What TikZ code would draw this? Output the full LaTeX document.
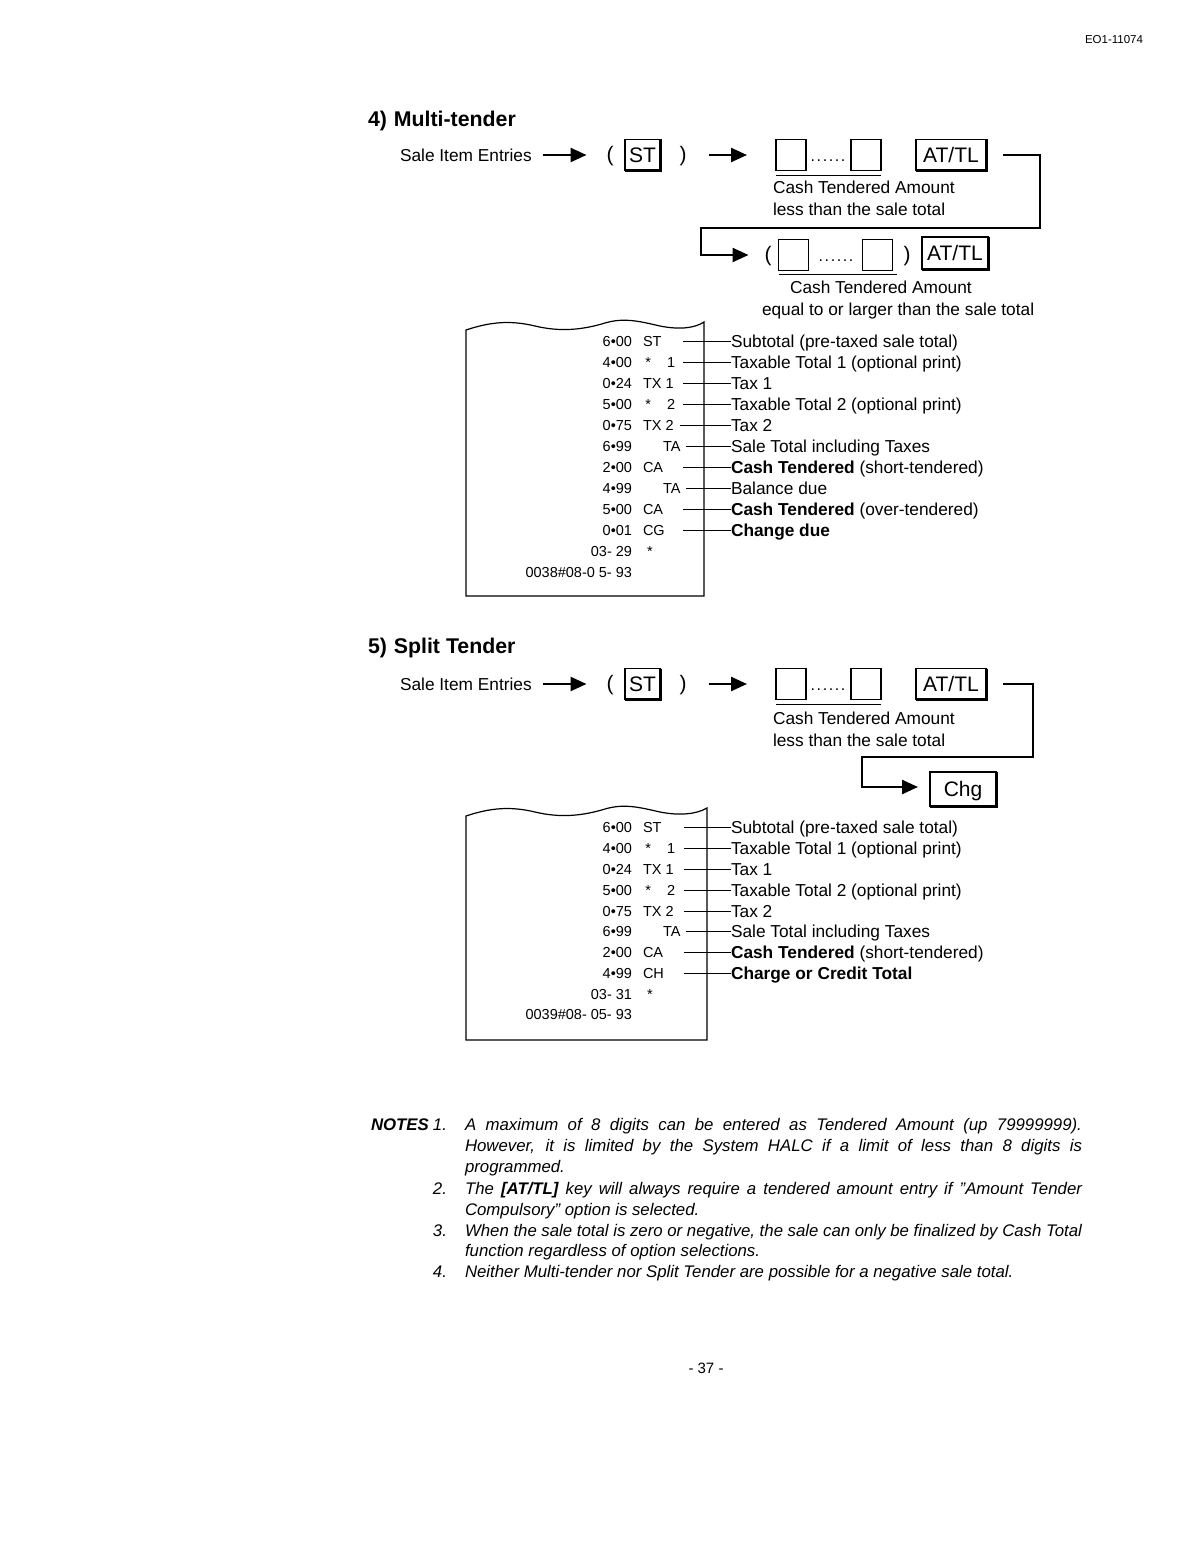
\documentclass[tikz,border=0pt]{standalone}
\usepackage{fontspec}
\setmainfont{Liberation Sans}
\usetikzlibrary{arrows.meta}
\newcommand\keyshade[1]{\draw[line width=3pt] (#1.north east) -- (#1.south east) -- (#1.south west);}
\newcommand\dotrow{.\kern1.6pt.\kern1.6pt.\kern1.6pt.\kern1.6pt.\kern1.6pt.}
\newcommand\rrow[6]{%
  \node[rcn] (#1n) at (632,#2) {#3};
  \node[rcc] (#1c) at (643,#2) {#4};
  \node[txt] (#1l) at (731,#2) {#5};
  \coordinate (#1s) at (#6,#2);
  \draw[lead] (#1s) -- (#1l.west);}
\begin{document}
\begin{tikzpicture}[x=1pt,y=-1pt,
  every node/.style={inner sep=0pt, outer sep=0pt},
  txt/.style={anchor=west, font=\fontsize{17.3}{20}\selectfont, text height=12.4pt, text depth=0pt},
  ttl/.style={anchor=west, font=\fontsize{21.3}{24}\selectfont\bfseries, text height=15.2pt, text depth=0pt},
  rcn/.style={anchor=east, font=\fontsize{14.5}{17}\selectfont, text height=10.4pt, text depth=0pt},
  rcc/.style={anchor=west, font=\fontsize{14.5}{17}\selectfont, text height=10.4pt, text depth=0pt},
  key/.style={draw, line width=1.8pt, font=\fontsize{21}{24}\selectfont, text height=15pt, text depth=0pt, minimum height=31pt},
  ebox/.style={draw, line width=1.2pt, minimum width=30pt, minimum height=31pt},
  par/.style={anchor=base, font=\fontsize{21}{24}\selectfont},
  dots/.style={anchor=base, font=\fontsize{16}{18}\selectfont},
  flow/.style={line width=2.4pt, -{Triangle[length=16pt,width=14pt]}},
  elbow/.style={line width=2.4pt},
  uline/.style={line width=1.4pt},
  lead/.style={line width=1pt},
  rcpt/.style={line width=1.2pt},
  nt/.style={anchor=west, font=\fontsize{16.8}{20}\selectfont\itshape, text height=12pt, text depth=0pt},
]
\useasboundingbox (0,0) rectangle (1202,1560);
\fill[white] (0,0) rectangle (1202,1560);

% header
\node[font=\fontsize{11.5}{13}\selectfont] (hdr) at (1114,40) {EO1-11074};

% ===== 4) Multi-tender =====
\node[ttl] (t4) at (368,119) {4)\hspace{7pt}Multi-tender};
\node[txt] (sie1) at (400,155) {Sale Item Entries};
\node[par] (po1) at (610,161.5) {(};
\node[key, minimum width=35pt] (st1) at (642.5,155) {ST};
\keyshade{st1}
\node[par] (pc1) at (683,161.5) {)};
\draw[flow] ([xshift=11pt]sie1.east |- st1.center) -- ([xshift=-20pt]po1.west |- st1.center);
\node[ebox] (b1a) at (791,155) {};
\node[dots] (d1) at (828,161) {\dotrow};
\node[ebox] (b1b) at (866,155) {};
\node[key, minimum width=70pt] (atl1) at (951,155) {AT/TL};
\keyshade{atl1}
\draw[flow] ([xshift=22pt]pc1.east |- st1.center) -- ([xshift=-29pt]b1a.west);
\draw[uline] ([yshift=-5pt]b1a.south west) -- ([yshift=-5pt]b1b.south east);
\node[txt] (ct1) at (773,187) {Cash Tendered Amount};
\node[txt] (lt1) at (773,209) {less than the sale total};

\coordinate (e1a) at (1003,155);
\coordinate (e1b) at (1040,155);
\coordinate (e1c) at (1040,228);
\coordinate (e1d) at (701,228);
\coordinate (e1e) at (701,255);
\node[par] (po2) at (768,261.5) {(};
\draw[elbow] (e1a) -- (e1b) -- (e1c) -- (e1d) -- (e1e);
\draw[flow] ([xshift=-1.2pt]e1e) -- ([xshift=-16pt]po2.west |- e1e);
\node[ebox] (b2a) at (793.5,255) {};
\node[dots] (d2) at (836,261) {\dotrow};
\node[ebox] (b2b) at (877.5,255) {};
\node[par] (pc2) at (907,261.5) {)};
\node[key, minimum width=66pt, minimum height=32pt] (atl2) at (955,253) {AT/TL};
\keyshade{atl2}
\draw[uline] ([yshift=-4pt]b2a.south west) -- ([yshift=-4pt,xshift=4pt]b2b.south east);
\node[txt] (ct2) at (790,287) {Cash Tendered Amount};
\node[txt] (eq2) at (762,309) {equal to or larger than the sale total};

% receipt 1
\draw[rcpt] (704,596) -- (466,596) -- (466,330)
  .. controls (490,322) and (510,320) .. (535,326)
  .. controls (560,332) and (582,330) .. (605,323)
  .. controls (625,317) and (642,322) .. (660,326)
  .. controls (680,330) and (695,328) .. (704,322) -- cycle;
\rrow{ra}{341}{6•00}{ST}{Subtotal (pre-taxed sale total)}{683}
\rrow{rb}{362}{4•00}{\,*\hspace{16pt}1}{Taxable Total 1 (optional print)}{683}
\rrow{rc}{383}{0•24}{TX 1}{Tax 1}{683}
\rrow{rd}{404}{5•00}{\,*\hspace{16pt}2}{Taxable Total 2 (optional print)}{683}
\rrow{re}{425}{0•75}{TX 2}{Tax 2}{680}
\rrow{rf}{446}{6•99}{\hspace{20pt}TA}{Sale Total including Taxes}{686}
\rrow{rg}{467}{2•00}{CA}{\textbf{Cash Tendered} (short-tendered)}{683}
\rrow{rh}{488}{4•99}{\hspace{20pt}TA}{Balance due}{686}
\rrow{ri}{509}{5•00}{CA}{\textbf{Cash Tendered} (over-tendered)}{683}
\rrow{rj}{530}{0•01}{CG}{\textbf{Change due}}{683}
\node[rcn] (rk) at (632,551) {03- 29};
\node[rcc] (rks) at (647,551) {*};
\node[rcn] (rl) at (632,572) {0038\#08-0 5- 93};

% ===== 5) Split Tender =====
\node[ttl] (t5) at (368,646) {5)\hspace{7pt}Split Tender};
\node[txt] (sie3) at (400,684) {Sale Item Entries};
\node[par] (po3) at (610,690.5) {(};
\node[key, minimum width=35pt] (st3) at (642.5,684) {ST};
\keyshade{st3}
\node[par] (pc3) at (683,690.5) {)};
\draw[flow] ([xshift=11pt]sie3.east |- st3.center) -- ([xshift=-20pt]po3.west |- st3.center);
\node[ebox] (b3a) at (791,684) {};
\node[dots] (d3) at (828,690) {\dotrow};
\node[ebox] (b3b) at (866,684) {};
\node[key, minimum width=70pt] (atl3) at (951,684) {AT/TL};
\keyshade{atl3}
\draw[flow] ([xshift=22pt]pc3.east |- st3.center) -- ([xshift=-29pt]b3a.west);
\draw[uline] ([yshift=-5pt]b3a.south west) -- ([yshift=-5pt]b3b.south east);
\node[txt] (ct3) at (773,718) {Cash Tendered Amount};
\node[txt] (lt3) at (773,740) {less than the sale total};

\coordinate (e3a) at (1003,684);
\coordinate (e3b) at (1033,684);
\coordinate (e3c) at (1033,757);
\coordinate (e3d) at (862,757);
\coordinate (e3e) at (862,787);
\node[key, minimum width=66pt, minimum height=34pt] (chg) at (963,789) {Chg};
\keyshade{chg}
\draw[elbow] (e3a) -- (e3b) -- (e3c) -- (e3d) -- (e3e);
\draw[flow] ([xshift=-1.2pt]e3e) -- ([xshift=-12pt]chg.west |- e3e);

% receipt 2
\draw[rcpt] (707,1040) -- (466,1040) -- (466,816)
  .. controls (490,808) and (510,806) .. (535,812)
  .. controls (560,818) and (582,816) .. (605,809)
  .. controls (625,803) and (642,808) .. (660,812)
  .. controls (680,816) and (697,814) .. (707,808) -- cycle;
\rrow{sa}{827}{6•00}{ST}{Subtotal (pre-taxed sale total)}{684}
\rrow{sb}{848}{4•00}{\,*\hspace{16pt}1}{Taxable Total 1 (optional print)}{684}
\rrow{sc}{869}{0•24}{TX 1}{Tax 1}{684}
\rrow{sd}{890}{5•00}{\,*\hspace{16pt}2}{Taxable Total 2 (optional print)}{684}
\rrow{se}{911}{0•75}{TX 2}{Tax 2}{684}
\rrow{sf}{931}{6•99}{\hspace{20pt}TA}{Sale Total including Taxes}{686}
\rrow{sg}{952}{2•00}{CA}{\textbf{Cash Tendered} (short-tendered)}{684}
\rrow{sh}{973}{4•99}{CH}{\textbf{Charge or Credit Total}}{684}
\node[rcn] (sk) at (632,994) {03- 31};
\node[rcc] (sks) at (647,994) {*};
\node[rcn] (sl) at (632,1014) {0039\#08- 05- 93};

% ===== NOTES =====
\node[nt, font=\fontsize{16.8}{20}\selectfont\bfseries\itshape] (notes) at (371,1124) {NOTES};
\node[nt, anchor=east] (n1) at (447,1124) {1.};
\node[nt] (n1a) at (465,1124) {\makebox[617pt][s]{A maximum of 8 digits can be entered as Tendered Amount (up 79999999).}};
\node[nt] (n1b) at (465,1145) {\makebox[617pt][s]{However, it is limited by the System HALC if a limit of less than 8 digits is}};
\node[nt] (n1c) at (465,1166) {programmed.};
\node[nt, anchor=east] (n2) at (447,1188) {2.};
\node[nt] (n2a) at (465,1188) {\makebox[617pt][s]{The \textbf{[AT/TL]} key will always require a tendered amount entry if "Amount Tender}};
\node[nt] (n2b) at (465,1209) {Compulsory" option is selected.};
\node[nt, anchor=east] (n3) at (447,1230) {3.};
\node[nt] (n3a) at (465,1230) {\makebox[617pt][s]{When the sale total is zero or negative, the sale can only be finalized by Cash Total}};
\node[nt] (n3b) at (465,1250) {function regardless of option selections.};
\node[nt, anchor=east] (n4) at (447,1271) {4.};
\node[nt] (n4a) at (465,1271) {Neither Multi-tender nor Split Tender are possible for a negative sale total.};

% page number
\node[font=\fontsize{15}{18}\selectfont] (pg) at (706,1368) {- 37 -};
\end{tikzpicture}
\end{document}
